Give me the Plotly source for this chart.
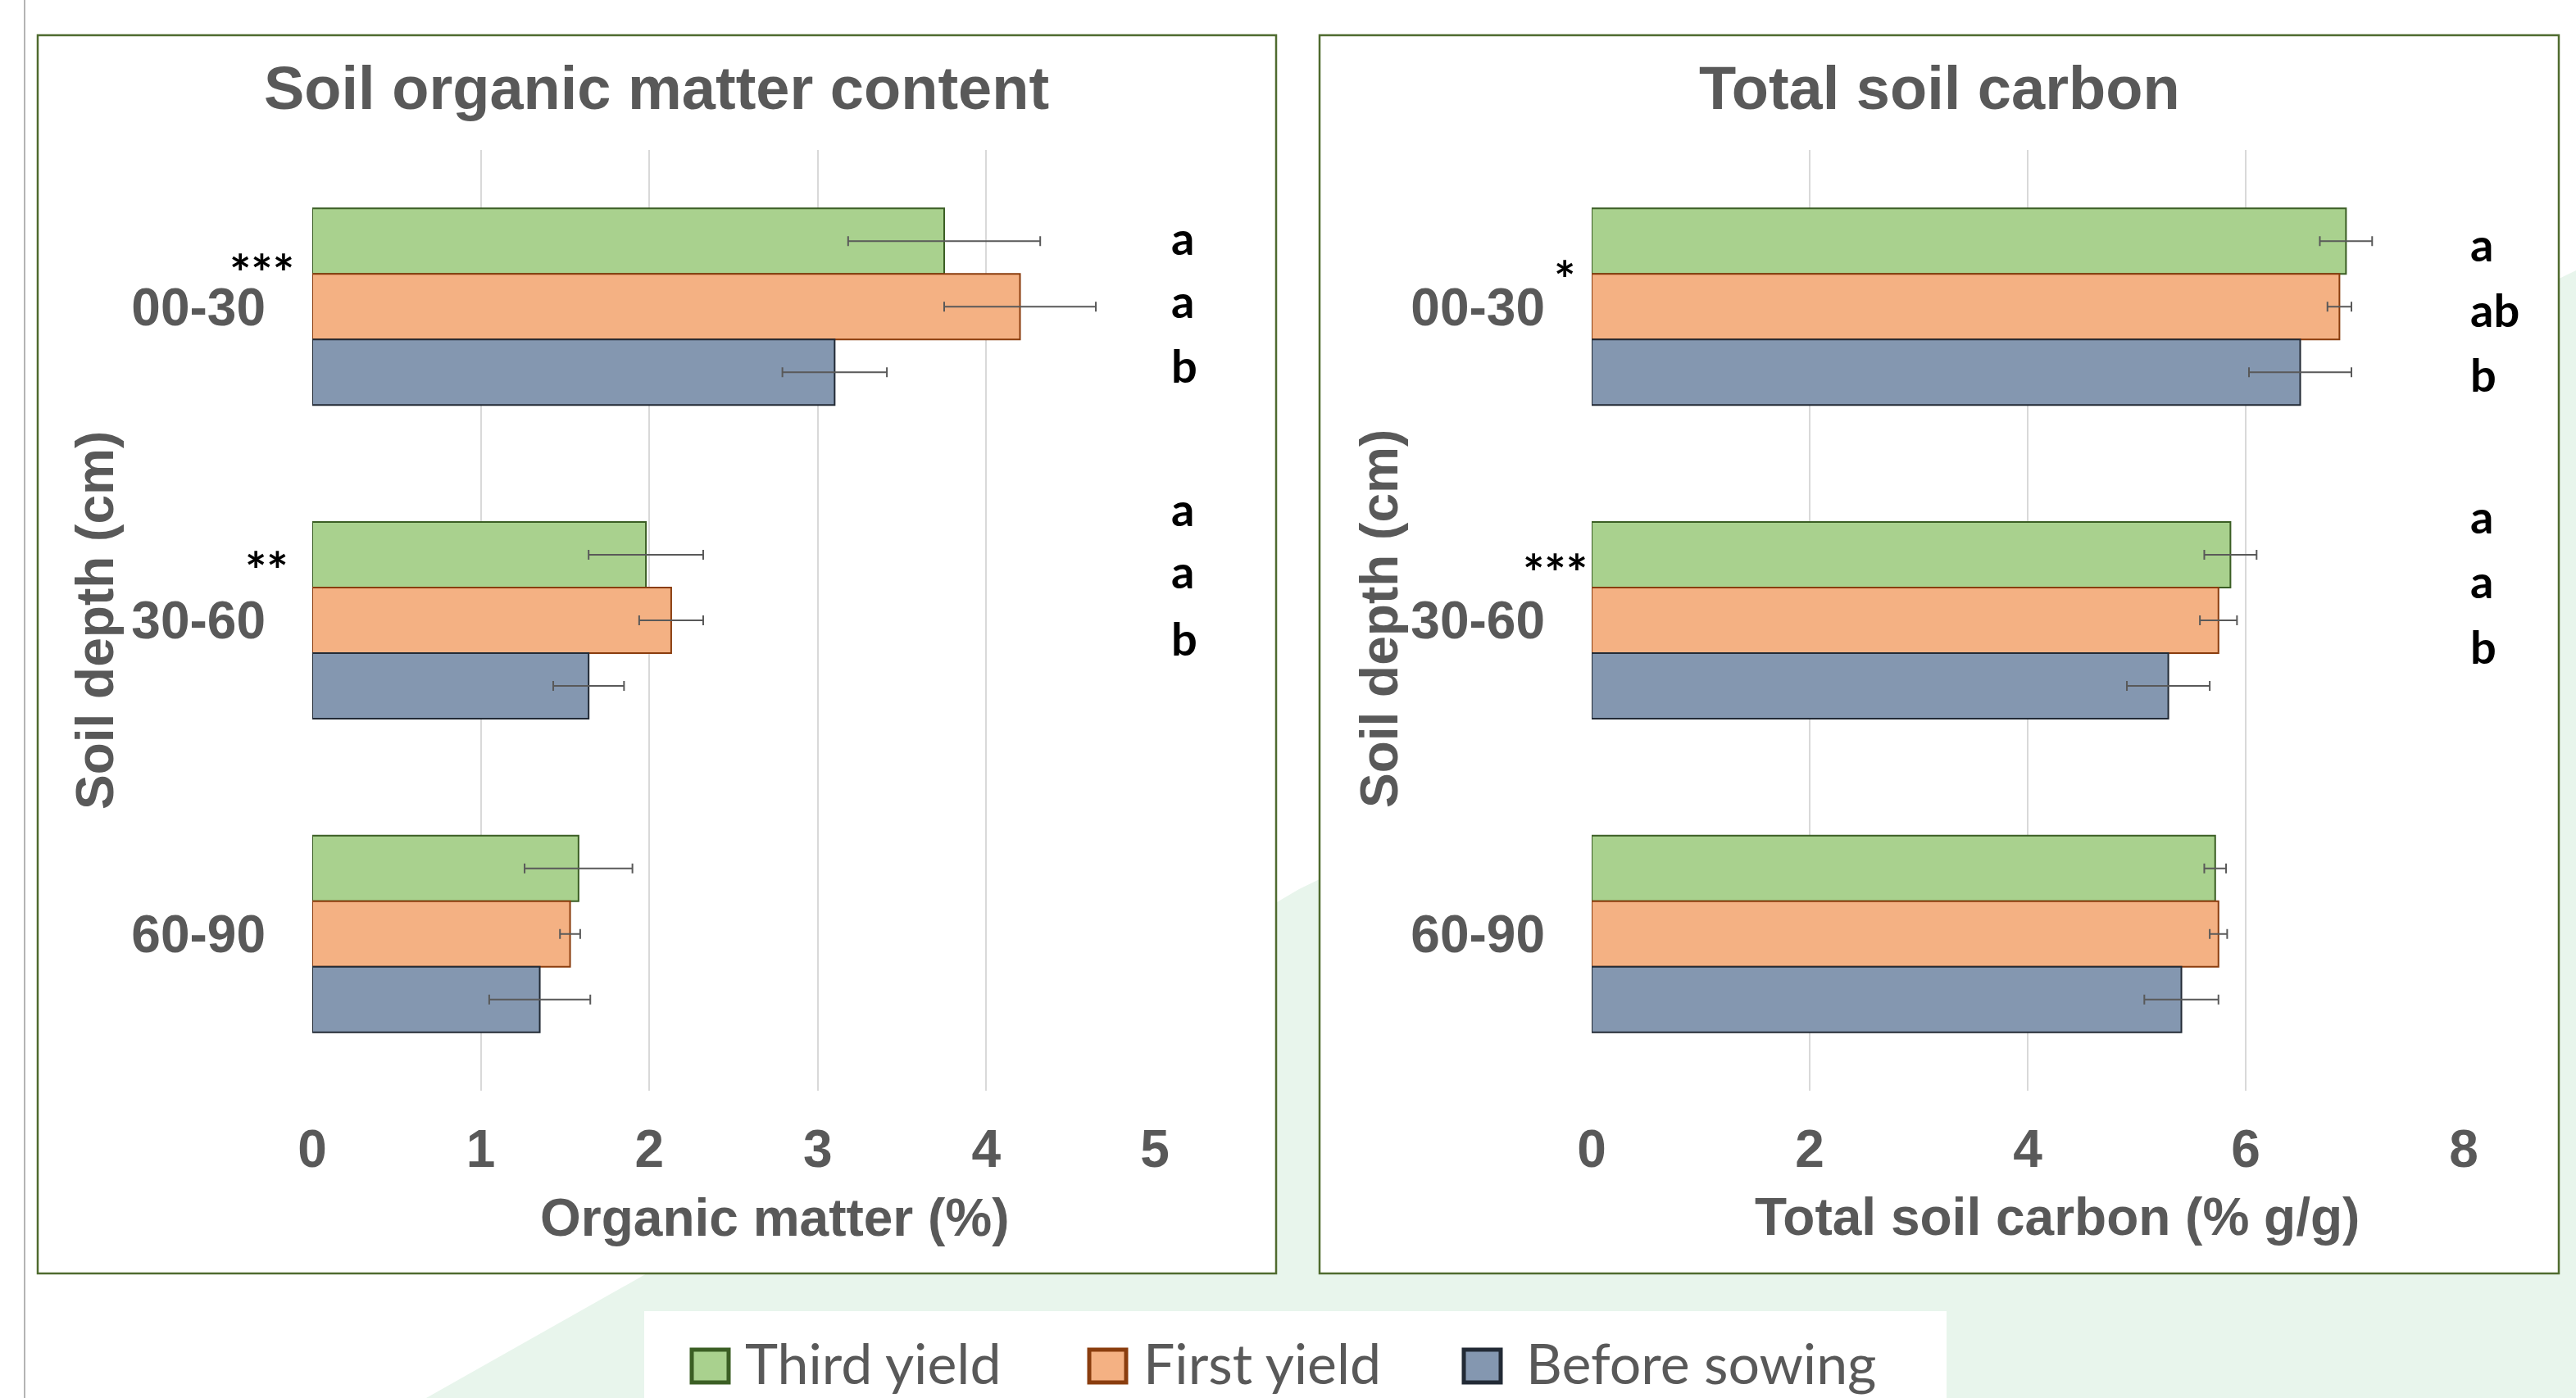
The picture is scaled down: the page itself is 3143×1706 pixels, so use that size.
import plotly.graph_objects as go

W, H = 3143, 1706

# ---------------- data ----------------
categories = ["00-30", "30-60", "60-90"]
series_names = ["Third yield", "First yield", "Before sowing"]

om_third = [3.75, 1.98, 1.58]
om_third_err = [0.57, 0.34, 0.32]
om_first = [4.20, 2.13, 1.53]
om_first_err = [0.45, 0.19, 0.06]
om_before = [3.10, 1.64, 1.35]
om_before_err = [0.31, 0.21, 0.30]

tc_third = [6.92, 5.86, 5.72]
tc_third_err = [0.24, 0.24, 0.10]
tc_first = [6.86, 5.75, 5.75]
tc_first_err = [0.11, 0.17, 0.08]
tc_before = [6.50, 5.29, 5.41]
tc_before_err = [0.47, 0.38, 0.34]

om_ticks = [0, 1, 2, 3, 4, 5]
tc_ticks = [0, 2, 4, 6, 8]

om_sig = ["***", "**", ""]
tc_sig = ["*", "***", ""]
om_letters = [["a", "a", "b"], ["a", "a", "b"]]
tc_letters = [["a", "ab", "b"], ["a", "a", "b"]]

# ---------------- styles ----------------
fills = ["#A9D18E", "#F4B183", "#8497B0"]
borders = ["#3B5E24", "#8A3D0E", "#222A35"]
GRAY = "#595959"
ARIAL = "Liberation Sans, Arial, sans-serif"
CAL = "Lato, Carlito, Calibri, sans-serif"


def fx(p):
    return p / W


def fy(p):
    return 1 - p / H


fig = go.Figure()

om_vals = [(om_third, om_third_err), (om_first, om_first_err), (om_before, om_before_err)]
tc_vals = [(tc_third, tc_third_err), (tc_first, tc_first_err), (tc_before, tc_before_err)]

for i, (v, e) in enumerate(om_vals):
    fig.add_trace(go.Bar(
        y=categories, x=v, orientation="h", name=series_names[i],
        marker=dict(color=fills[i], line=dict(color=borders[i], width=2)),
        error_x=dict(type="data", array=e, color=GRAY, thickness=2, width=6),
        xaxis="x", yaxis="y", showlegend=False))
for i, (v, e) in enumerate(tc_vals):
    fig.add_trace(go.Bar(
        y=categories, x=v, orientation="h", name=series_names[i],
        marker=dict(color=fills[i], line=dict(color=borders[i], width=2)),
        error_x=dict(type="data", array=e, color=GRAY, thickness=2, width=6),
        xaxis="x2", yaxis="y2", showlegend=False))

ydom = [fy(1331), fy(183)]
axfont = dict(family=ARIAL, size=64, color=GRAY, weight="bold")

common_x = dict(showgrid=True, gridcolor="#D9D9D9", gridwidth=2, zeroline=False,
                showline=False, ticks="", tickfont=axfont, ticklabelstandoff=28,
                automargin=False)
common_y = dict(type="category", autorange="reversed", showgrid=False, zeroline=False,
                showline=False, ticks="", tickfont=axfont, ticklabelstandoff=56,
                automargin=False)

fig.update_layout(
    width=W, height=H,
    margin=dict(l=0, r=0, t=0, b=0, pad=0, autoexpand=False),
    paper_bgcolor="white", plot_bgcolor="rgba(0,0,0,0)",
    showlegend=False,
    barmode="group", bargap=0.373, bargroupgap=0,
    xaxis=dict(domain=[fx(381), fx(1409)], range=[0, 5], tickvals=om_ticks,
               anchor="y", **common_x),
    yaxis=dict(domain=ydom, anchor="x", **common_y),
    xaxis2=dict(domain=[fx(1942), fx(3006)], range=[0, 8], tickvals=tc_ticks,
                anchor="y2", **common_x),
    yaxis2=dict(domain=ydom, anchor="x2", **common_y),
)

shapes = []
# background decorative light-green region
bg_pts = [(520, 1706), (791, 1553), (1585, 1085), (3143, 330), (3143, 1706)]
path = "M " + " L ".join(f"{fx(x):.5f},{fy(y):.5f}" for x, y in bg_pts) + " Z"
shapes.append(dict(type="path", xref="paper", yref="paper", path=path,
                   fillcolor="#E8F5EC", line=dict(width=0), layer="below"))
# thin vertical page line
shapes.append(dict(type="line", xref="paper", yref="paper", x0=fx(30), x1=fx(30),
                   y0=0, y1=1, line=dict(color="#B4B4B4", width=2), layer="below"))
# panel boxes
for x0, x1 in [(46, 1557), (1610, 3122)]:
    shapes.append(dict(type="rect", xref="paper", yref="paper",
                       x0=fx(x0), x1=fx(x1), y0=fy(1554), y1=fy(43),
                       fillcolor="white", line=dict(color="#4F6B2F", width=2.5),
                       layer="below"))
# legend box
shapes.append(dict(type="rect", xref="paper", yref="paper",
                   x0=fx(786), x1=fx(2375), y0=fy(1706), y1=fy(1600),
                   fillcolor="white", line=dict(width=0), layer="below"))
# legend swatches
sw_x = [844, 1329, 1786]
for i, sx in enumerate(sw_x):
    shapes.append(dict(type="rect", xref="paper", yref="paper",
                       x0=fx(sx), x1=fx(sx + 45), y0=fy(1687), y1=fy(1647),
                       fillcolor=fills[i], line=dict(color=borders[i], width=5),
                       layer="above"))
fig.update_layout(shapes=shapes)

ann = []


def add_text(x, y, text, size, color=GRAY, family=ARIAL, weight="bold",
             xanchor="center", angle=0):
    ann.append(dict(xref="paper", yref="paper", x=fx(x), y=fy(y), text=text,
                    showarrow=False, xanchor=xanchor, yanchor="middle",
                    textangle=angle,
                    font=dict(family=family, size=size, color=color, weight=weight)))


# titles
add_text(801, 107, "Soil organic matter content", 74)
add_text(2366, 107, "Total soil carbon", 74)
# axis titles
add_text(945, 1486, "Organic matter (%)", 64)
add_text(2510, 1485, "Total soil carbon (% g/g)", 64)
add_text(116, 757, "Soil depth (cm)", 64, angle=-90)
add_text(1683, 755, "Soil depth (cm)", 64, angle=-90)

# significance stars
om_sig_pos = [(319, 332), (325, 695)]
tc_sig_pos = [(1909, 340), (1897, 698)]
for s, (x, y) in zip(om_sig, om_sig_pos):
    if s:
        add_text(x, y, s, 62, color="black", family=CAL)
for s, (x, y) in zip(tc_sig, tc_sig_pos):
    if s:
        add_text(x, y, s, 62, color="black", family=CAL)

# letters
om_letter_y = [[289, 366, 445], [620, 696, 778]]
tc_letter_y = [[298, 377, 457], [630, 708, 788]]
for grp, ys in zip(om_letters, om_letter_y):
    for t, y in zip(grp, ys):
        add_text(1427, y, t, 56, color="black", family=CAL, xanchor="left")
for grp, ys in zip(tc_letters, tc_letter_y):
    for t, y in zip(grp, ys):
        add_text(3012, y, t, 56, color="black", family=CAL, xanchor="left")

# legend texts
leg_x = [907, 1393, 1860]
for name, x in zip(series_names, leg_x):
    add_text(x, 1662, name, 68, family=CAL, weight="normal", xanchor="left")

fig.update_layout(annotations=ann)

fig.write_html(
    "out.html",
    config={"displayModeBar": False},
    post_script="document.body.style.margin='0px';document.body.style.padding='0px';",
)
